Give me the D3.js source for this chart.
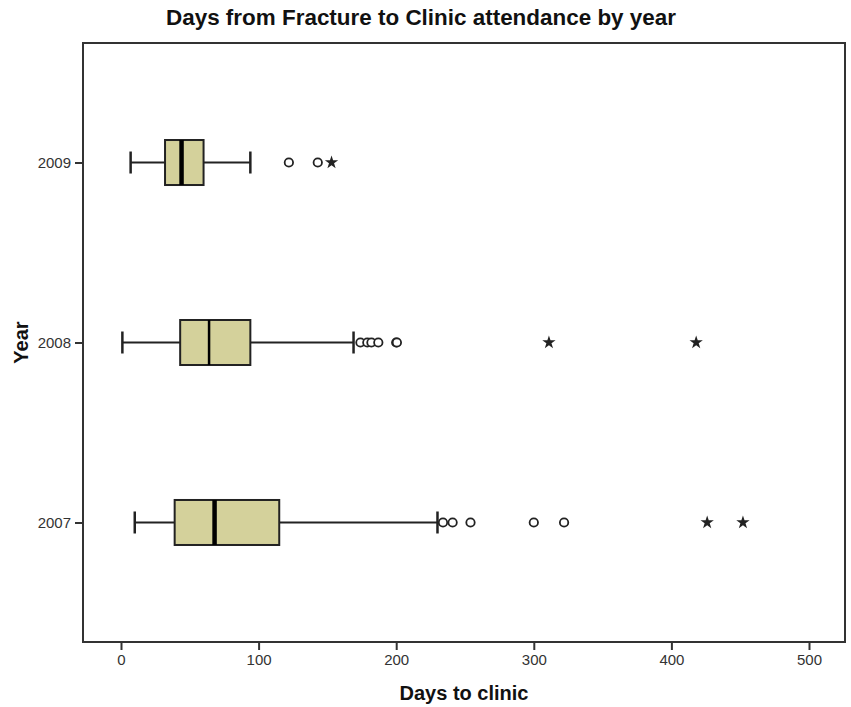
<!DOCTYPE html>
<html>
<head>
<meta charset="utf-8">
<script src="https://cdn.jsdelivr.net/npm/d3@7"></script>
<style>
  html, body { margin: 0; padding: 0; background: #fff; }
  svg { display: block; }
</style>
</head>
<body>
<svg id="chart" width="851" height="707"></svg>
<script>
// ---- data ----
const years = ["2009", "2008", "2007"];
const whiskerLow = [7, 1, 10];
const q1 = [32, 43, 39];
const median = [44, 64, 68];
const q3 = [60, 94, 115];
const whiskerHigh = [94, 169, 230];
const outliers = [[122, 143], [174, 179, 182, 187, 200, 200.5], [234, 241, 254, 300, 322]];
const extremes = [[153], [311, 418], [426, 452]];
const xTicks = [0, 100, 200, 300, 400, 500];

const titleText = "Days from Fracture to Clinic attendance by year";
const xLabel = "Days to clinic";
const yLabel = "Year";

// ---- style ----
const medianWidth = { "2009": 4.5, "2008": 2.5, "2007": 4.5 };
const boxFill = "#d4d19b";
const ink = "#222";
const font = "Liberation Sans, Arial, sans-serif";

const svg = d3.select("#chart");
const frame = { left: 83, right: 845, top: 43, bottom: 642 };

const x = d3.scaleLinear().domain([0, 500]).range([121, 809]);
const y = d3.scalePoint().domain(years).range([frame.top, frame.bottom]).padding(0.664);
const boxH = 45;
const capH = 22;

// title
svg.append("text")
  .attr("x", 421).attr("y", 25)
  .attr("text-anchor", "middle")
  .attr("font-family", font)
  .attr("font-weight", "bold")
  .attr("font-size", 22.3)
  .attr("fill", "#111")
  .attr("textLength", 510)
  .attr("lengthAdjust", "spacingAndGlyphs")
  .text(titleText);

// frame
svg.append("rect")
  .attr("x", frame.left).attr("y", frame.top)
  .attr("width", frame.right - frame.left).attr("height", frame.bottom - frame.top)
  .attr("fill", "none").attr("stroke", "#333").attr("stroke-width", 2);

// x axis
const xAxis = svg.append("g")
  .attr("transform", `translate(0,${frame.bottom})`)
  .call(d3.axisBottom(x).tickValues(xTicks).tickSize(8).tickPadding(4).tickFormat(d3.format("d")));
xAxis.select(".domain").remove();
xAxis.selectAll(".tick line").attr("stroke", "#333").attr("stroke-width", 2);
xAxis.selectAll(".tick text")
  .attr("font-family", font)
  .attr("font-size", 15).attr("fill", "#333");

// y axis
const yAxis = svg.append("g")
  .attr("transform", `translate(${frame.left},0)`)
  .call(d3.axisLeft(y).tickSize(8).tickPadding(4));
yAxis.select(".domain").remove();
yAxis.selectAll(".tick line").attr("stroke", "#333").attr("stroke-width", 2);
yAxis.selectAll(".tick text")
  .attr("font-family", font)
  .attr("font-size", 15).attr("fill", "#333");

// axis labels
svg.append("text")
  .attr("x", (frame.left + frame.right) / 2).attr("y", 700)
  .attr("text-anchor", "middle")
  .attr("font-family", font)
  .attr("font-weight", "bold").attr("font-size", 20).attr("fill", "#111")
  .text(xLabel);

svg.append("text")
  .attr("transform", `translate(28,${(frame.top + frame.bottom) / 2}) rotate(-90)`)
  .attr("text-anchor", "middle")
  .attr("font-family", font)
  .attr("font-weight", "bold").attr("font-size", 20).attr("fill", "#111")
  .text(yLabel);

// boxes
const rows = years.map((yr, i) => ({
  yr, lo: whiskerLow[i], q1: q1[i], med: median[i], q3: q3[i], hi: whiskerHigh[i],
  out: outliers[i], ext: extremes[i]
}));

const g = svg.append("g");
rows.forEach(r => {
  const cy = y(r.yr);
  // whiskers
  g.append("line").attr("x1", x(r.lo)).attr("x2", x(r.q1)).attr("y1", cy).attr("y2", cy)
    .attr("stroke", ink).attr("stroke-width", 2);
  g.append("line").attr("x1", x(r.q3)).attr("x2", x(r.hi)).attr("y1", cy).attr("y2", cy)
    .attr("stroke", ink).attr("stroke-width", 2);
  // caps
  [r.lo, r.hi].forEach(v => {
    g.append("line").attr("x1", x(v)).attr("x2", x(v))
      .attr("y1", cy - capH / 2).attr("y2", cy + capH / 2)
      .attr("stroke", ink).attr("stroke-width", 2.5);
  });
  // box
  g.append("rect")
    .attr("x", x(r.q1)).attr("y", cy - boxH / 2)
    .attr("width", x(r.q3) - x(r.q1)).attr("height", boxH)
    .attr("fill", boxFill).attr("stroke", ink).attr("stroke-width", 2);
  // median
  g.append("line").attr("x1", x(r.med)).attr("x2", x(r.med))
    .attr("y1", cy - boxH / 2).attr("y2", cy + boxH / 2)
    .attr("stroke", "#000").attr("stroke-width", medianWidth[r.yr]);
  // outliers
  r.out.forEach(v => {
    g.append("circle").attr("cx", x(v)).attr("cy", cy).attr("r", 4.2)
      .attr("fill", "#fff").attr("stroke", ink).attr("stroke-width", 1.8);
  });
  // extremes
  r.ext.forEach(v => {
    g.append("path")
      .attr("transform", `translate(${x(v)},${cy})`)
      .attr("d", d3.symbol().type(d3.symbolStar).size(55)())
      .attr("fill", ink);
  });
});
</script>
</body>
</html>
